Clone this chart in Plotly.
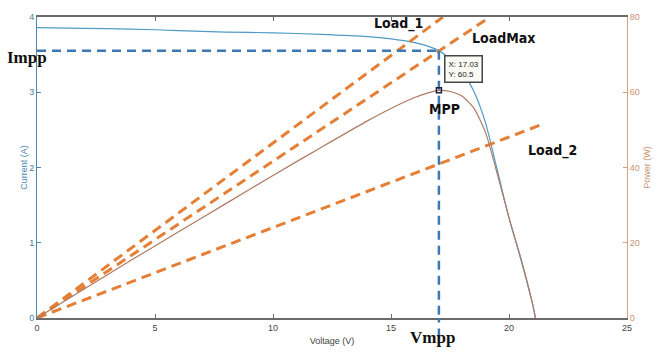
import plotly.graph_objects as go

# ---- data ----
voltage = [0, 2, 4, 6, 8, 10, 12, 14, 15, 16, 16.5, 17.03, 17.5, 18, 18.5, 19, 19.5, 20, 20.5, 21, 21.12]
current = [3.86, 3.85, 3.84, 3.82, 3.80, 3.79, 3.77, 3.74, 3.71, 3.66, 3.62, 3.553, 3.44, 3.28, 3.02, 2.60, 1.97, 1.33, 0.78, 0.18, 0]
power = [0, 7.7, 15.4, 22.9, 30.4, 37.9, 45.2, 52.4, 55.7, 58.6, 59.7, 60.5, 60.2, 59.0, 55.9, 49.4, 38.4, 26.6, 16.0, 3.8, 0]

load_names = ["Load_1", "LoadMax", "Load_2"]
load_v = [[0, 17.2], [0, 19.2], [0, 21.46]]
load_i = [[0, 4.0], [0, 4.0], [0, 2.58]]

v_mpp = 17.03
i_mpp = 3.553
p_mpp = 60.5

x_ticks = [0, 5, 10, 15, 20, 25]
i_ticks = [0, 1, 2, 3, 4]
p_ticks = [0, 20, 40, 60, 80]

BLUE_AX = "#4a86b0"
BROWN_AX = "#d7a184"
ORANGE = "#e57f35"
DASH_BLUE = "#3c78b4"

fig = go.Figure()

# I-V curve
fig.add_trace(go.Scatter(x=voltage, y=current, mode="lines", line=dict(color="#4f9bc8", width=1.2, shape="spline", smoothing=0.6),
                         hoverinfo="skip", showlegend=False))
# P-V curve
fig.add_trace(go.Scatter(x=voltage, y=power, mode="lines", yaxis="y2",
                         line=dict(color="#b07a62", width=1.2, shape="spline", smoothing=0.6),
                         hoverinfo="skip", showlegend=False))
# load lines
for name, lv, li in zip(load_names, load_v, load_i):
    fig.add_trace(go.Scatter(x=lv, y=li, mode="lines", name=name,
                             line=dict(color=ORANGE, width=3, dash="10px,6px"),
                             hoverinfo="skip", showlegend=False))
# Impp / Vmpp dashed guides
fig.add_trace(go.Scatter(x=[0, v_mpp], y=[i_mpp, i_mpp], mode="lines",
                         line=dict(color=DASH_BLUE, width=2.5, dash="9px,6px"), showlegend=False, hoverinfo="skip"))
fig.add_trace(go.Scatter(x=[v_mpp, v_mpp], y=[i_mpp, 0], mode="lines",
                         line=dict(color=DASH_BLUE, width=2.5, dash="9px,6px"), showlegend=False, hoverinfo="skip"))
fig.add_shape(type="line", xref="x", yref="paper", x0=v_mpp, x1=v_mpp, y0=-0.065, y1=0,
              line=dict(color=DASH_BLUE, width=2.5, dash="9px,6px"))
# MPP marker
fig.add_trace(go.Scatter(x=[v_mpp], y=[p_mpp], yaxis="y2", mode="markers",
                         marker=dict(symbol="square-open", size=5, color="#1b2340", line=dict(width=1.5)),
                         showlegend=False, hoverinfo="skip"))

calibri = "DejaVu Sans Condensed, Roboto, Liberation Sans, sans-serif"
label_font = dict(family=calibri, size=14, color="#111111")
anns = [
    dict(x=15.3, y=3.92, text="<b>Load_1</b>"),
    dict(x=19.77, y=3.72, text="<b>LoadMax</b>"),
    dict(x=17.28, y=2.78, text="<b>MPP</b>"),
    dict(x=21.84, y=2.22, text="<b>Load_2</b>"),
]
for a in anns:
    fig.add_annotation(x=a["x"], y=a["y"], xref="x", yref="y", text=a["text"], showarrow=False, font=label_font)

serif = dict(family="Liberation Serif, Times New Roman, serif", size=17, color="#111111")
fig.add_annotation(x=-0.017, y=0.865, xref="paper", yref="paper", xanchor="center", yanchor="middle",
                   text="<b>Impp</b>", showarrow=False, font=serif)
fig.add_annotation(x=0.671, y=-0.066, xref="paper", yref="paper", xanchor="center", yanchor="middle",
                   text="<b>Vmpp</b>", showarrow=False, font=serif)

# data tip box
fig.add_annotation(x=17.24, y=3.5, xref="x", yref="y", xanchor="left", yanchor="top",
                   text=f"X: {v_mpp}<br>Y: {p_mpp}", showarrow=False, align="left",
                   font=dict(family="Liberation Sans, Arial, sans-serif", size=8, color="#222"),
                   bgcolor="#fbfbf5", bordercolor="#444", borderwidth=1.5, borderpad=3)

fig.update_layout(
    width=662, height=357,
    margin=dict(l=37, r=33, t=14, b=39),
    paper_bgcolor="white", plot_bgcolor="white",
    font=dict(family="Liberation Sans, Arial, sans-serif", size=9, color="#444"),
    xaxis=dict(range=[0, 25], tickvals=x_ticks, showgrid=False, zeroline=False,
               showline=True, linecolor="#6a6a6a", linewidth=1.5, mirror="ticks",
               ticks="inside", ticklen=4, tickcolor="#6a6a6a", tickfont=dict(size=9, color="#444"),
               title=dict(text="Voltage (V)", font=dict(size=9, color="#444"), standoff=6)),
    yaxis=dict(range=[0, 4], tickvals=i_ticks, showgrid=False, zeroline=False,
               showline=True, linecolor=BLUE_AX, linewidth=1, ticks="inside", ticklen=4,
               tickcolor=BLUE_AX, tickfont=dict(size=9, color="#4a7a9a"),
               title=dict(text="Current (A)", font=dict(size=9, color=BLUE_AX), standoff=0)),
    yaxis2=dict(range=[0, 80], tickvals=p_ticks, overlaying="y", side="right", showgrid=False,
                zeroline=False, showline=True, linecolor=BROWN_AX, linewidth=1, ticks="inside",
                ticklen=4, tickcolor=BROWN_AX, tickfont=dict(size=9, color="#c9926e"),
                title=dict(text="Power (W)", font=dict(size=9, color="#c9926e"), standoff=4)),
)

fig.write_html("out.html")
